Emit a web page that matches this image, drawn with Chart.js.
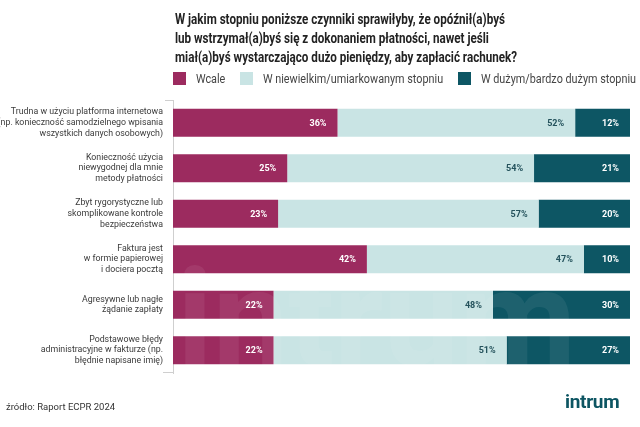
<!DOCTYPE html>
<html><head><meta charset="utf-8">
<script src="https://cdn.jsdelivr.net/npm/chart.js@4"></script>
<style>
html,body{margin:0;padding:0;background:#fff;width:640px;height:427px;overflow:hidden;font-family:Roboto,"Open Sans",sans-serif;}
#wrap{position:relative;width:640px;height:427px;}
#c{position:absolute;left:0;top:0;}
.title{position:absolute;left:175px;top:10px;font-weight:700;font-size:15.5px;line-height:19px;color:#222;white-space:nowrap;transform-origin:0 0;}
.title div span{display:inline-block;}
.leg{position:absolute;top:72px;height:13px;display:flex;align-items:center;white-space:nowrap;font-size:12px;color:#444;}
.leg i{display:inline-block;width:13px;height:13px;margin-right:10px;flex:none;}
.leg span{display:inline-block;transform-origin:0 50%;}
.foot{position:absolute;left:6px;top:401px;font-size:9.5px;color:#333;white-space:nowrap;}
.logo{position:absolute;left:565px;top:390px;font-size:19px;font-weight:700;color:#0d5562;white-space:nowrap;transform-origin:0 0;letter-spacing:-0.3px;}
</style></head>
<body><div id="wrap">
<canvas id="c" width="640" height="427"></canvas>
<div class="title" id="title">
<div><span>W jakim stopniu poniższe czynniki sprawiłyby, że opóźnił(a)byś</span></div>
<div><span>lub wstrzymał(a)byś się z dokonaniem płatności, nawet jeśli</span></div>
<div><span>miał(a)byś wystarczająco dużo pieniędzy, aby zapłacić rachunek?</span></div>
</div>
<div id="legend"></div>
<div class="foot">źródło: Raport ECPR 2024</div>
<div class="logo" id="logo">intrum</div>
</div>
<script>
const categories = [
  ["Trudna w użyciu platforma internetowa","(np. konieczność samodzielnego wpisania","wszystkich danych osobowych)"],
  ["Konieczność użycia","niewygodnej dla mnie","metody płatności"],
  ["Zbyt rygorystyczne lub","skomplikowane kontrole","bezpieczeństwa"],
  ["Faktura jest","w formie papierowej","i dociera pocztą"],
  ["Agresywne lub nagłe","żądanie zapłaty"],
  ["Podstawowe błędy","administracyjne w fakturze (np.","błędnie napisane imię)"]
];
const seriesNames = ["Wcale","W niewielkim/umiarkowanym stopniu","W dużym/bardzo dużym stopniu"];
const wcale     = [36,25,23,42,22,22];
const niewielki = [52,54,57,47,48,51];
const duzy      = [12,21,20,10,30,27];

const seriesValues = [wcale, niewielki, duzy];
const colors = ["#9c2b5f","#c9e4e4","#0d5664"];
const labelColors = ["#ffffff","#24525c","#ffffff"];
const legendLeft = [173,240,458];

// legend
const legEl = document.getElementById('legend');
const legSpans = [];
seriesNames.forEach((n,i)=>{
  const d=document.createElement('div'); d.className='leg'; d.style.left=legendLeft[i]+'px';
  const sq=document.createElement('i'); sq.style.background=colors[i];
  const sp=document.createElement('span'); sp.textContent=n;
  d.appendChild(sq); d.appendChild(sp); legEl.appendChild(d); legSpans.push(sp);
});
const legScale = Math.min(1, 155 / legSpans[2].getBoundingClientRect().width);
legSpans.forEach(s=>s.style.transform='scaleX('+legScale+')');
// condense title
const t1 = document.querySelector('#title span');
const sc = 330 / t1.getBoundingClientRect().width;
document.getElementById('title').style.transform='scaleX('+Math.min(1,sc)+')';
const lg = document.getElementById('logo');
lg.style.transform='scaleX('+Math.min(1,58/lg.getBoundingClientRect().width)+')';

const totals = categories.map((_,j)=>seriesValues.reduce((s,a)=>s+a[j],0));
const datasets = seriesValues.map((arr,i)=>({
  label: seriesNames[i],
  data: arr.map((v,j)=>v/totals[j]*100),
  raw: arr,
  backgroundColor: colors[i],
  labelColor: labelColors[i],
  borderWidth: 0,
  barPercentage: 0.62,
  categoryPercentage: 1
}));

const decor = {
  id:'decor',
  afterDatasetsDraw(chart){
    const ctx=chart.ctx, a=chart.chartArea;
    ctx.save();
    ctx.beginPath(); ctx.rect(a.left,a.top,a.right-a.left,a.bottom-a.top); ctx.clip();
    ctx.font='bold 135px Roboto'; ctx.fillStyle='rgba(255,255,255,0.07)';
    ctx.textAlign='left'; ctx.textBaseline='alphabetic';
    ctx.fillText('intrum', a.left+4, a.bottom-8, 415);
    ctx.restore();
    ctx.save();
    ctx.font='bold 9px Roboto'; ctx.textAlign='right'; ctx.textBaseline='middle';
    chart.data.datasets.forEach((ds,i)=>{
      chart.getDatasetMeta(i).data.forEach((bar,j)=>{
        ctx.fillStyle=ds.labelColor;
        ctx.fillText(ds.raw[j]+'%', bar.x-11, bar.y+0.5);
      });
    });
    ctx.strokeStyle='#cfcfcf'; ctx.lineWidth=1;
    ctx.beginPath();
    ctx.moveTo(a.left-8,a.top+0.5); ctx.lineTo(a.left,a.top+0.5);
    ctx.moveTo(a.left-10,a.bottom-0.5); ctx.lineTo(a.left,a.bottom-0.5);
    ctx.stroke();
    ctx.restore();
  }
};

new Chart(document.getElementById('c'), {
  type:'bar',
  data:{labels:categories, datasets},
  options:{
    indexAxis:'y', responsive:false, animation:false,
    layout:{padding:{top:100,bottom:54,right:10,left:0}},
    plugins:{legend:{display:false}, tooltip:{enabled:false}},
    scales:{
      x:{stacked:true,min:0,max:100,display:false},
      y:{stacked:true,
         grid:{display:false,drawTicks:false},
         border:{display:true,color:'#cfcfcf',width:1},
         ticks:{padding:10,color:'#3a3a3a',font:{family:'Roboto',size:8.8,lineHeight:1.2}},
         afterFit(s){s.width=173;}
      }
    }
  },
  plugins:[decor]
});
</script>
</body></html>
